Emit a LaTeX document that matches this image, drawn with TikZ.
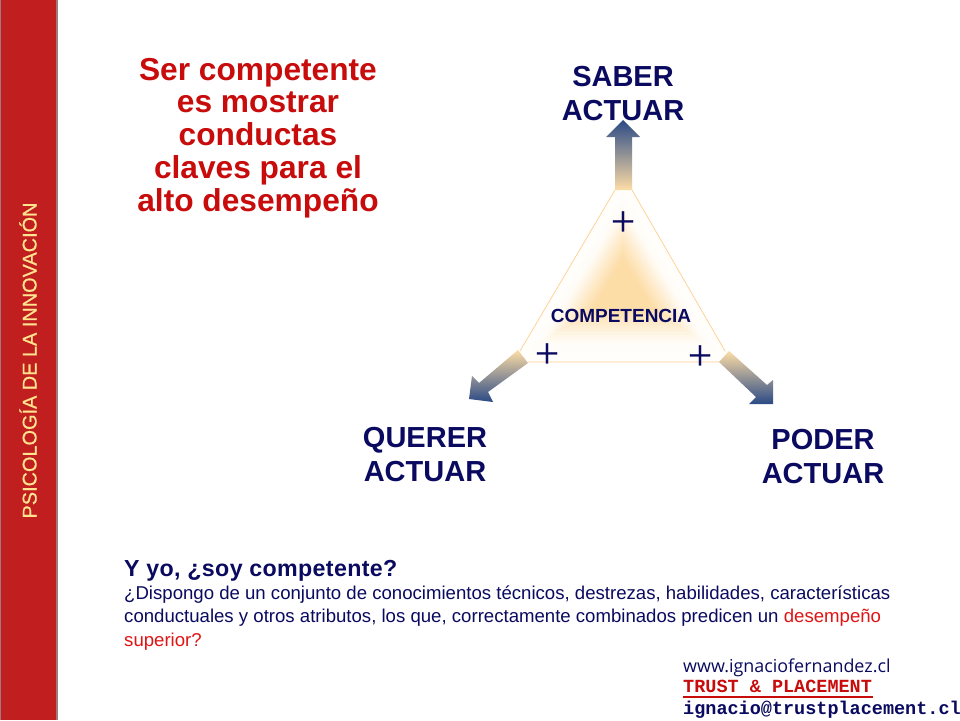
\documentclass[tikz,border=0pt]{standalone}
\usepackage{fontspec}
\setmainfont{Liberation Sans}
\newfontfamily\plusfont[RawFeature={embolden=0.6}]{Liberation Serif}
\newfontfamily\webfont{Open Sans}
\newfontfamily\typefont{Liberation Mono}
\newfontfamily\barfont[RawFeature={embolden=0.5}]{Liberation Sans}
\newfontfamily\askfont[LetterSpace=1.5]{Liberation Sans}
\definecolor{barred}{HTML}{C11F1F}
\definecolor{barline}{HTML}{A07A80}
\definecolor{barink}{HTML}{FFE38F}
\definecolor{navyink}{HTML}{0A0A60}
\definecolor{redink}{HTML}{C80C0C}
\definecolor{brightred}{HTML}{E01414}
\definecolor{glow}{HTML}{FDDDA6}
\definecolor{steel}{HTML}{2B4A85}
\usetikzlibrary{positioning,calc}
\tikzset{
    headline/.style={font=\fontsize{31.7}{32.8}\selectfont\bfseries, align=center, text=redink},
    axislabel/.style={font=\fontsize{29}{34}\selectfont\bfseries, align=center, text=navyink},
    plusmark/.style={font=\fontsize{43}{43}\selectfont\plusfont, text=navyink, inner sep=0pt},
    bodyline/.style={font=\fontsize{18.6}{20}\selectfont, text=navyink, anchor=base west, inner sep=0pt},
    monoline/.style={font=\fontsize{18.5}{20}\selectfont\typefont\bfseries, anchor=base west, inner sep=0pt}
}
\begin{document}
\begin{tikzpicture}[x=1pt,y=-1pt]
\useasboundingbox (0,0) rectangle (960,720);
\fill[white] (0,0) rectangle (960,720);

\fill[barline] (0,0) rectangle (57.5,720);
\fill[barred] (1,0) rectangle (56,720);
\node[rotate=90, text=barink, font=\fontsize{19.9}{20}\selectfont\barfont, inner sep=0pt] (bartitle) at (28,360.5) {PSICOLOGÍA DE LA INNOVACIÓN};

\node[headline] (claim) at (258,138) {Ser competente\\es mostrar\\conductas\\claves para el\\alto desempeño};

\begin{scope}
\clip (615,190)--(632,190)--(725,351)--(719,362)--(528,362)--(520,351)--cycle;
\foreach \s/\p in {1/3,.9/4,.8/6,.72/10,.68/17,.64/24,.6/32,.56/40,.52/49,.48/58,.44/66,.4/74,.36/82,.32/90,.28/96,.24/100}
{
    \fill[glow!\p!white] ($(623,288)!\s!(623,172)$)--($(623,288)!\s!(507,366)$)--($(623,288)!\s!(739,366)$)--cycle;
}
\end{scope}
\draw[glow!85!orange, line width=.7pt] (615,190)--(520,351) (528,362)--(719,362) (632,190)--(725,351);

\shade[top color=steel, bottom color=glow, middle color=glow!50!steel]
    (615,190)--(615,137)--(606,137)--(623,120)--(640,137)--(632,137)--(632,190)--cycle;
\shade[shading angle=-127, top color=glow, bottom color=steel, middle color=glow!50!steel]
    (518,350)--(528,363)--(488,392)--(493,402)--(469,399)--(472,376)--(479,383)--cycle;
\shade[shading angle=135, top color=glow, bottom color=steel, middle color=glow!50!steel]
    (729,351)--(719,362)--(756,397)--(749,404)--(773,404)--(773,380)--(767,385)--cycle;

\node[plusmark] (plustop) at (623,223.5) {+};
\node[plusmark] (plusleft) at (547,355.5) {+};
\node[plusmark] (plusright) at (700,357.5) {+};
\node[font=\fontsize{19}{18}\selectfont\bfseries, text=navyink] (core) at (621,316) {COMPETENCIA};

\node[axislabel] (saber) at (623,94) {SABER\\ACTUAR};
\node[axislabel] (querer) at (425,455) {QUERER\\ACTUAR};
\node[axislabel] (poder) at (823,457) {PODER\\ACTUAR};

\node[bodyline, font=\fontsize{23.2}{20}\selectfont\askfont\bfseries] (ask) at (124,576) {Y yo, ¿soy competente?};
\node[bodyline] (lineone) at (124,599) {¿Dispongo de un conjunto de conocimientos técnicos, destrezas, habilidades, características};
\node[bodyline] (linetwo) at (124,622) {conductuales y otros atributos, los que, correctamente combinados predicen un \textcolor{brightred}{desempeño}};
\node[bodyline, text=brightred] (linethree) at (124,646) {superior?};

\node[bodyline, font=\fontsize{17.9}{20}\selectfont\webfont] (web) at (683,672) {www.ignaciofernandez.cl};
\node[monoline, text=redink] (trust) at (683,692) {TRUST \& PLACEMENT};
\draw[redink, line width=1.5pt] (trust.base west)++(0,5)--++(190,0);
\node[monoline, text=navyink] (mail) at (683,714) {ignacio@trustplacement.cl};
\end{tikzpicture}
\end{document}
